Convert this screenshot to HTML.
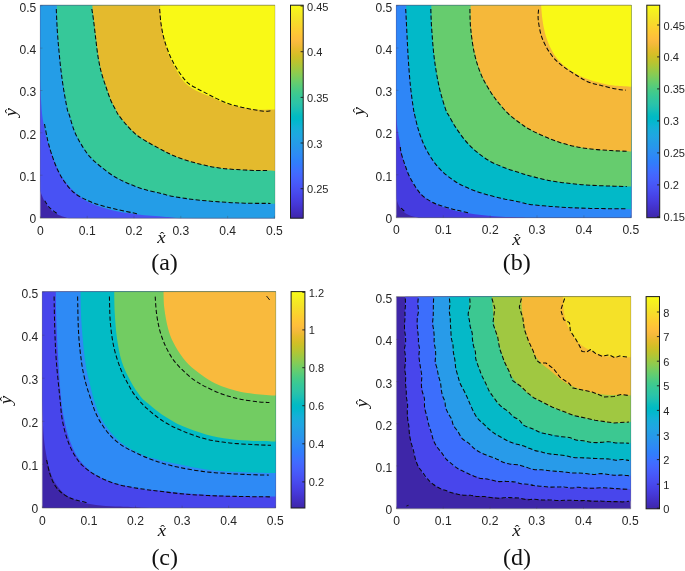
<!DOCTYPE html>
<html><head><meta charset="utf-8"><title>Contour figure</title>
<style>html,body{margin:0;padding:0;background:#fff}svg{display:block}text{font-family:"Liberation Sans",Arial,sans-serif;fill:#262626}.cap{font-family:"Liberation Serif","Times New Roman",serif;fill:#111}.mi{font-family:"Liberation Serif","Times New Roman",serif;font-style:italic;fill:#111}</style></head><body>
<svg width="685" height="571" viewBox="0 0 685 571">
<rect width="685" height="571" fill="#fff"/>
<defs><linearGradient id="pg" x1="0" y1="1" x2="0" y2="0"><stop offset="0.0000" stop-color="#3E26A8"/><stop offset="0.0159" stop-color="#402AB4"/><stop offset="0.0317" stop-color="#422EC0"/><stop offset="0.0476" stop-color="#4332CB"/><stop offset="0.0635" stop-color="#4537D5"/><stop offset="0.0794" stop-color="#463CDE"/><stop offset="0.0952" stop-color="#4741E5"/><stop offset="0.1111" stop-color="#4747EB"/><stop offset="0.1270" stop-color="#484DF0"/><stop offset="0.1429" stop-color="#4852F4"/><stop offset="0.1587" stop-color="#4758F8"/><stop offset="0.1746" stop-color="#465EFB"/><stop offset="0.1905" stop-color="#4563FD"/><stop offset="0.2063" stop-color="#4269FE"/><stop offset="0.2222" stop-color="#3E6FFF"/><stop offset="0.2381" stop-color="#3875FE"/><stop offset="0.2540" stop-color="#327CFC"/><stop offset="0.2698" stop-color="#2F81FA"/><stop offset="0.2857" stop-color="#2E87F7"/><stop offset="0.3016" stop-color="#2D8CF3"/><stop offset="0.3175" stop-color="#2B91EF"/><stop offset="0.3333" stop-color="#2797EB"/><stop offset="0.3492" stop-color="#259BE8"/><stop offset="0.3651" stop-color="#23A0E5"/><stop offset="0.3810" stop-color="#20A5E3"/><stop offset="0.3968" stop-color="#1CA9DF"/><stop offset="0.4127" stop-color="#18ADDB"/><stop offset="0.4286" stop-color="#12B1D6"/><stop offset="0.4444" stop-color="#08B5D0"/><stop offset="0.4603" stop-color="#01B8CA"/><stop offset="0.4762" stop-color="#02BAC3"/><stop offset="0.4921" stop-color="#0BBDBD"/><stop offset="0.5079" stop-color="#19BFB6"/><stop offset="0.5238" stop-color="#24C1AE"/><stop offset="0.5397" stop-color="#2CC4A7"/><stop offset="0.5556" stop-color="#31C69F"/><stop offset="0.5714" stop-color="#37C897"/><stop offset="0.5873" stop-color="#3FCA8E"/><stop offset="0.6032" stop-color="#4ACB84"/><stop offset="0.6190" stop-color="#57CC7A"/><stop offset="0.6349" stop-color="#64CD6F"/><stop offset="0.6508" stop-color="#72CD64"/><stop offset="0.6667" stop-color="#81CC59"/><stop offset="0.6825" stop-color="#8FCB4E"/><stop offset="0.6984" stop-color="#9DC943"/><stop offset="0.7143" stop-color="#ABC739"/><stop offset="0.7302" stop-color="#B9C431"/><stop offset="0.7460" stop-color="#C5C22A"/><stop offset="0.7619" stop-color="#D1BF27"/><stop offset="0.7778" stop-color="#DCBD29"/><stop offset="0.7937" stop-color="#E6BB2D"/><stop offset="0.8095" stop-color="#F0BA36"/><stop offset="0.8254" stop-color="#F8BA3D"/><stop offset="0.8413" stop-color="#FEBE3C"/><stop offset="0.8571" stop-color="#FEC338"/><stop offset="0.8730" stop-color="#FEC934"/><stop offset="0.8889" stop-color="#FCCF30"/><stop offset="0.9048" stop-color="#FAD62D"/><stop offset="0.9206" stop-color="#F7DC2A"/><stop offset="0.9365" stop-color="#F5E327"/><stop offset="0.9524" stop-color="#F5E924"/><stop offset="0.9683" stop-color="#F6EF20"/><stop offset="0.9841" stop-color="#F7F51B"/><stop offset="1.0000" stop-color="#F9FB15"/></linearGradient></defs>
<g id="panel-a">
<clipPath id="clipa"><rect x="40.2" y="5.2" width="234.8" height="213.0"/></clipPath>
<g clip-path="url(#clipa)">
<rect x="40.2" y="5.2" width="234.8" height="213.0" fill="#3E26A8"/>
<path d="M40.2 191.1C40.8 192.6 42.2 196.9 43.7 199.8C45.2 202.7 47.2 206.0 49.5 208.4C51.8 210.8 54.0 212.5 57.2 214.2C60.4 215.9 66.9 217.7 68.8 218.4L278.0 221.2L278.0 2.2L37.2 2.2Z" fill="#4852F4"/>
<path d="M40.2 84.0C40.3 86.7 40.6 94.7 41.0 100.0C41.4 105.3 41.7 111.3 42.3 116.0C42.9 120.7 43.7 124.2 44.4 128.0C45.1 131.8 45.6 134.8 46.6 138.5C47.6 142.2 49.0 146.4 50.5 150.5C52.0 154.6 53.2 158.5 55.3 163.2C57.4 167.9 59.8 173.8 63.0 178.6C66.2 183.4 70.7 188.4 74.5 192.1C78.3 195.8 81.9 198.3 86.1 200.7C90.3 203.1 94.5 204.7 99.6 206.5C104.7 208.3 110.8 210.0 116.9 211.3C123.0 212.6 130.4 213.4 136.2 214.2C142.0 214.9 146.6 215.4 151.6 215.8C156.6 216.2 161.2 216.5 166.0 216.9C170.8 217.3 178.0 218.2 180.4 218.4L278.0 221.2L278.0 2.2L37.2 2.2Z" fill="#249DE7"/>
<path d="M56.8 5.2C56.9 9.2 57.2 21.7 57.6 28.9C58.0 36.1 58.5 41.8 59.1 48.2C59.7 54.6 60.2 61.0 61.0 67.4C61.8 73.8 62.5 79.6 63.6 86.7C64.7 93.8 66.8 105.1 67.8 109.8C68.8 114.5 68.6 111.6 69.7 115.0C70.8 118.4 72.6 125.6 74.5 130.4C76.4 135.2 78.7 139.6 81.3 143.9C83.9 148.2 86.6 152.6 90.0 156.4C93.4 160.2 97.3 163.6 101.5 167.0C105.7 170.4 110.5 174.0 115.0 176.7C119.5 179.4 123.7 181.3 128.5 183.4C133.3 185.5 138.8 187.6 143.9 189.2C149.0 190.8 155.1 191.9 159.3 193.0C163.5 194.1 164.2 194.6 169.0 195.6C173.8 196.6 181.7 197.9 188.0 198.8C194.3 199.7 200.7 200.3 207.0 200.9C213.3 201.5 219.6 201.9 225.9 202.3C232.2 202.7 238.6 203.0 244.9 203.2C251.2 203.4 258.9 203.5 263.9 203.6C268.9 203.7 273.1 203.8 275.0 203.8L278.0 2.2Z" fill="#36C899"/>
<path d="M92.3 5.2C92.5 7.6 93.2 13.8 93.8 19.3C94.4 24.9 95.3 32.1 96.1 38.5C96.9 44.9 97.6 52.0 98.6 57.8C99.6 63.6 100.6 68.4 101.9 73.2C103.2 78.0 104.8 82.2 106.3 86.7C107.8 91.2 109.5 96.4 111.1 100.2C112.7 104.0 114.7 107.3 116.0 109.8C117.3 112.3 117.1 112.5 118.9 115.0C120.7 117.5 123.7 121.4 126.6 124.6C129.5 127.8 132.7 131.4 136.2 134.3C139.7 137.2 143.6 139.4 147.8 142.0C152.0 144.6 157.4 147.4 161.6 149.7C165.8 151.9 168.6 153.6 173.1 155.5C177.6 157.4 183.3 159.3 188.5 160.9C193.7 162.5 198.8 163.9 204.0 165.1C209.2 166.3 214.0 167.2 219.4 168.0C224.8 168.8 230.6 169.2 236.7 169.6C242.8 170.0 249.6 170.3 256.0 170.5C262.4 170.7 271.8 170.8 275.0 170.9L278.0 2.2Z" fill="#E4BA2D"/>
<path d="M160.0 5.2C160.3 8.5 160.8 19.1 161.6 25.0C162.3 30.9 163.2 35.4 164.5 40.5C165.8 45.6 167.6 51.4 169.3 55.9C171.1 60.4 172.9 63.6 175.0 67.4C177.1 71.2 179.6 76.0 181.8 79.0C184.1 82.0 185.8 83.6 188.5 85.7C191.2 87.8 194.3 89.6 198.2 91.5C202.1 93.4 206.9 95.2 211.7 97.3C216.5 99.4 222.2 102.4 227.0 104.0C231.8 105.6 236.1 106.1 240.6 107.0C245.1 107.9 248.3 109.0 254.0 109.4C259.7 109.8 271.5 109.6 275.0 109.6L278.0 2.2Z" fill="#F9F916"/>
<path d="M44.7 200.7C45.5 201.8 47.4 205.4 49.5 207.6C51.6 209.8 55.9 212.7 57.2 213.7" fill="none" stroke="#0a0a0a" stroke-width="1.05" stroke-dasharray="4.3 2.3"/>
<path d="M44.5 124.0C45.0 126.7 46.5 135.1 47.6 140.0C48.8 144.9 49.8 148.7 51.4 153.5C53.0 158.3 55.0 164.2 57.2 169.0C59.5 173.8 62.0 178.4 64.9 182.4C67.8 186.4 70.7 189.9 74.5 193.0C78.3 196.1 83.5 198.6 88.0 200.7C92.5 202.8 96.7 204.1 101.5 205.6C106.3 207.1 111.0 208.1 116.9 209.4C122.8 210.8 133.7 213.0 137.0 213.7" fill="none" stroke="#0a0a0a" stroke-width="1.05" stroke-dasharray="4.3 2.3"/>
<path d="M56.3 9.0C56.4 12.3 56.8 22.4 57.2 28.9C57.6 35.4 58.1 41.8 58.7 48.2C59.3 54.6 59.9 61.0 60.6 67.4C61.4 73.8 62.1 79.6 63.2 86.7C64.3 93.8 66.4 105.1 67.4 109.8C68.4 114.5 68.2 111.6 69.3 115.0C70.4 118.4 72.2 125.6 74.1 130.4C76.0 135.2 78.3 139.6 80.9 143.9C83.5 148.2 86.2 152.6 89.6 156.4C93.0 160.2 96.9 163.6 101.1 167.0C105.3 170.4 110.1 174.0 114.6 176.7C119.1 179.4 123.3 181.3 128.1 183.4C132.9 185.5 138.3 187.6 143.5 189.2C148.7 190.8 155.1 191.9 159.3 193.0C163.6 194.1 164.2 194.6 169.0 195.6C173.8 196.6 181.7 197.9 188.0 198.8C194.3 199.7 200.7 200.3 207.0 200.9C213.3 201.5 219.6 201.9 225.9 202.3C232.2 202.7 237.5 203.0 244.9 203.2C252.3 203.4 266.2 203.4 270.5 203.4" fill="none" stroke="#0a0a0a" stroke-width="1.05" stroke-dasharray="4.3 2.3"/>
<path d="M91.8 9.0C92.1 10.7 92.8 14.4 93.4 19.3C94.1 24.2 94.9 32.1 95.7 38.5C96.5 44.9 97.2 52.0 98.2 57.8C99.2 63.6 100.2 68.4 101.5 73.2C102.8 78.0 104.4 82.2 105.9 86.7C107.4 91.2 109.1 96.4 110.7 100.2C112.3 104.0 114.3 107.3 115.6 109.8C116.9 112.3 116.7 112.5 118.5 115.0C120.3 117.5 123.3 121.4 126.2 124.6C129.1 127.8 132.3 131.4 135.8 134.3C139.3 137.2 143.1 139.4 147.4 142.0C151.7 144.6 157.3 147.4 161.6 149.7C165.9 151.9 168.6 153.6 173.1 155.5C177.6 157.4 183.3 159.3 188.5 160.9C193.7 162.5 198.8 163.9 204.0 165.1C209.2 166.3 214.0 167.2 219.4 168.0C224.8 168.8 230.6 169.2 236.7 169.6C242.8 170.0 250.9 170.3 256.0 170.5C261.1 170.7 265.6 170.5 267.5 170.5" fill="none" stroke="#0a0a0a" stroke-width="1.05" stroke-dasharray="4.3 2.3"/>
<path d="M159.6 9.0C159.9 11.7 160.4 19.8 161.2 25.0C162.0 30.2 163.0 35.4 164.5 40.5C166.0 45.6 168.2 51.5 170.0 55.8C171.8 60.1 173.5 63.0 175.4 66.3C177.3 69.6 179.5 72.8 181.6 75.6C183.7 78.4 185.4 80.8 187.8 82.9C190.2 85.0 193.4 86.6 196.2 88.2C199.0 89.8 201.7 90.9 204.6 92.4C207.5 93.9 209.9 95.3 213.6 97.1C217.3 98.9 222.5 101.4 227.0 103.1C231.5 104.8 236.1 105.9 240.6 107.0C245.1 108.1 250.2 109.0 254.0 109.7C257.9 110.4 261.0 111.0 263.7 111.2C266.4 111.4 269.3 110.9 270.4 110.8" fill="none" stroke="#0a0a0a" stroke-width="1.05" stroke-dasharray="4.3 2.3"/>
</g>
<path d="M40.2 5.2H275.0M40.2 218.2H275.0" fill="none" stroke="#555" stroke-opacity="0.85" stroke-width="0.6"/>
<path d="M40.2 5.2V218.2M275.0 5.2V218.2" fill="none" stroke="#555" stroke-opacity="0.4" stroke-width="0.6"/>
<path d="M40.4 218.2v-2.3M40.2 217.5h2.3" stroke="#444" stroke-opacity="0.6" stroke-width="0.5" fill="none"/>
<text transform="translate(40.4 234.7) scale(0.955 1)" font-size="12.7" text-anchor="middle">0</text>
<text transform="translate(36.2 223.4) scale(0.95 1)" font-size="12.7" text-anchor="end">0</text>
<path d="M87.2 218.2v-2.3M40.2 175.2h2.3" stroke="#444" stroke-opacity="0.6" stroke-width="0.5" fill="none"/>
<text transform="translate(87.2 234.7) scale(0.955 1)" font-size="12.7" text-anchor="middle">0.1</text>
<text transform="translate(36.2 181.1) scale(0.95 1)" font-size="12.7" text-anchor="end">0.1</text>
<path d="M134.0 218.2v-2.3M40.2 132.8h2.3" stroke="#444" stroke-opacity="0.6" stroke-width="0.5" fill="none"/>
<text transform="translate(134.0 234.7) scale(0.955 1)" font-size="12.7" text-anchor="middle">0.2</text>
<text transform="translate(36.2 138.7) scale(0.95 1)" font-size="12.7" text-anchor="end">0.2</text>
<path d="M180.8 218.2v-2.3M40.2 90.5h2.3" stroke="#444" stroke-opacity="0.6" stroke-width="0.5" fill="none"/>
<text transform="translate(180.8 234.7) scale(0.955 1)" font-size="12.7" text-anchor="middle">0.3</text>
<text transform="translate(36.2 96.4) scale(0.95 1)" font-size="12.7" text-anchor="end">0.3</text>
<path d="M227.6 218.2v-2.3M40.2 48.1h2.3" stroke="#444" stroke-opacity="0.6" stroke-width="0.5" fill="none"/>
<text transform="translate(227.6 234.7) scale(0.955 1)" font-size="12.7" text-anchor="middle">0.4</text>
<text transform="translate(36.2 54.0) scale(0.95 1)" font-size="12.7" text-anchor="end">0.4</text>
<path d="M274.4 218.2v-2.3M40.2 5.8h2.3" stroke="#444" stroke-opacity="0.6" stroke-width="0.5" fill="none"/>
<text transform="translate(274.4 234.7) scale(0.955 1)" font-size="12.7" text-anchor="middle">0.5</text>
<text transform="translate(36.2 11.7) scale(0.95 1)" font-size="12.7" text-anchor="end">0.5</text>
<g transform="translate(161.5 243.0)"><text class="mi" transform="scale(1.18 1)" font-size="16" text-anchor="middle">x</text><text class="cap" x="0.6" y="-0.6" font-size="14" text-anchor="middle">ˆ</text></g>
<g transform="translate(15.5 112.2) rotate(-90)"><text class="mi" transform="scale(1.18 1)" font-size="16" text-anchor="middle">y</text><text class="cap" x="1.0" y="-0.6" font-size="14" text-anchor="middle">ˆ</text></g>
<rect x="290.5" y="5.2" width="12.7" height="213.0" fill="url(#pg)" stroke="#1c1c1c" stroke-width="1"/>
<path d="M303.2 6.0h-2.6" stroke="#1c1c1c" stroke-width="0.9"/>
<text transform="translate(307.0 10.5) scale(0.97 1)" font-size="11.4">0.45</text>
<path d="M303.2 51.7h-2.6" stroke="#1c1c1c" stroke-width="0.9"/>
<text transform="translate(307.0 56.2) scale(0.97 1)" font-size="11.4">0.4</text>
<path d="M303.2 97.4h-2.6" stroke="#1c1c1c" stroke-width="0.9"/>
<text transform="translate(307.0 101.9) scale(0.97 1)" font-size="11.4">0.35</text>
<path d="M303.2 143.0h-2.6" stroke="#1c1c1c" stroke-width="0.9"/>
<text transform="translate(307.0 147.5) scale(0.97 1)" font-size="11.4">0.3</text>
<path d="M303.2 188.7h-2.6" stroke="#1c1c1c" stroke-width="0.9"/>
<text transform="translate(307.0 193.2) scale(0.97 1)" font-size="11.4">0.25</text>
<text class="cap" x="164.5" y="270.4" font-size="24" text-anchor="middle">(a)</text>
</g>
<g id="panel-b">
<clipPath id="clipb"><rect x="396.2" y="5.2" width="235.2" height="212.5"/></clipPath>
<g clip-path="url(#clipb)">
<rect x="396.2" y="5.2" width="235.2" height="212.5" fill="#3E26A8"/>
<path d="M396.5 198.9C396.9 200.1 397.9 203.8 399.0 205.9C400.1 208.0 401.6 210.0 403.2 211.5C404.8 213.0 406.7 214.1 408.8 215.0C410.9 215.9 414.1 216.6 415.8 217.1C417.5 217.6 418.5 218.0 419.0 218.2L634.4 220.7L634.4 2.2L393.2 2.2Z" fill="#453CE0"/>
<path d="M396.5 119.0C396.7 120.8 397.1 126.3 397.6 130.0C398.1 133.7 399.1 137.5 399.7 141.0C400.3 144.5 400.4 147.6 401.1 151.2C401.8 154.8 402.7 158.7 403.9 162.4C405.1 166.1 406.6 170.1 408.1 173.6C409.6 177.1 411.0 180.2 413.0 183.5C415.0 186.8 417.4 190.5 420.0 193.3C422.6 196.1 425.4 198.3 428.5 200.3C431.6 202.3 435.2 203.9 438.3 205.2C441.4 206.5 443.8 207.2 447.0 208.2C450.2 209.2 452.8 210.3 457.4 211.3C462.0 212.3 468.7 213.4 474.8 214.2C480.9 215.0 486.5 215.6 494.0 216.2C501.5 216.8 514.3 217.2 520.0 217.6C525.7 217.9 526.7 218.2 528.0 218.3L634.4 220.7L634.4 2.2L393.2 2.2Z" fill="#2E86F7"/>
<path d="M406.2 5.2C406.3 9.2 406.6 20.1 407.0 28.9C407.4 37.7 407.9 48.2 408.5 57.8C409.1 67.4 409.9 78.0 410.8 86.7C411.7 95.4 413.2 105.1 413.9 109.8C414.6 114.5 414.2 111.6 415.0 115.0C415.8 118.4 417.3 125.3 418.9 130.4C420.5 135.5 422.4 141.0 424.7 145.8C426.9 150.6 429.5 155.1 432.4 159.3C435.3 163.5 438.1 167.2 442.0 170.9C445.9 174.6 450.7 178.4 455.5 181.5C460.3 184.6 465.4 186.9 470.9 189.2C476.4 191.4 482.5 193.3 488.3 195.0C494.1 196.7 500.3 198.0 505.6 199.2C510.9 200.3 515.9 201.0 520.0 201.9C524.1 202.8 525.2 203.7 530.3 204.4C535.4 205.2 543.8 205.9 550.6 206.4C557.4 206.9 564.1 207.4 570.9 207.7C577.7 208.0 584.4 208.2 591.2 208.4C598.0 208.6 604.8 208.6 611.5 208.7C618.2 208.8 628.2 208.9 631.5 208.9L634.4 2.2Z" fill="#02B9C8"/>
<path d="M431.3 5.2C431.4 9.2 431.5 20.1 432.0 28.9C432.5 37.7 433.3 48.2 434.5 57.8C435.7 67.4 437.5 78.0 439.4 86.7C441.3 95.4 444.5 105.1 446.1 109.8C447.7 114.5 447.2 112.2 448.8 115.0C450.4 117.8 452.8 122.4 455.5 126.6C458.2 130.8 461.6 135.8 465.1 140.0C468.6 144.2 472.5 148.1 476.7 151.6C480.9 155.1 485.4 158.5 490.2 161.2C495.0 163.9 500.6 166.1 505.6 168.0C510.6 169.9 515.9 171.5 520.0 172.8C524.1 174.1 525.2 174.6 530.3 175.9C535.4 177.2 543.8 179.5 550.6 180.8C557.4 182.1 564.1 182.8 570.9 183.6C577.7 184.3 584.4 184.9 591.2 185.3C598.0 185.7 604.8 185.9 611.5 186.1C618.2 186.3 628.2 186.5 631.5 186.6L634.4 2.2Z" fill="#66CC6E"/>
<path d="M470.6 5.2C470.7 9.2 470.5 20.8 471.2 28.9C471.9 37.0 473.2 46.3 475.0 54.0C476.8 61.7 479.1 68.7 481.8 75.1C484.5 81.5 488.4 87.7 491.4 92.5C494.4 97.3 497.0 100.3 500.0 104.0C503.0 107.7 506.2 111.4 509.5 114.5C512.8 117.6 516.5 120.2 520.0 122.7C523.5 125.2 525.2 126.8 530.3 129.5C535.4 132.2 543.8 136.2 550.6 138.9C557.4 141.6 564.1 143.8 570.9 145.5C577.7 147.2 584.4 148.2 591.2 149.0C598.0 149.8 604.8 150.2 611.5 150.6C618.2 151.0 628.2 151.4 631.5 151.6L634.4 2.2Z" fill="#F5B83A"/>
<path d="M541.1 5.2C541.3 7.6 541.8 14.7 542.4 19.3C543.0 23.9 543.7 28.3 544.9 32.8C546.1 37.3 547.8 42.0 549.7 46.2C551.6 50.4 553.9 54.4 556.5 57.8C559.1 61.2 561.7 63.8 565.1 66.5C568.5 69.2 572.5 72.0 576.7 74.2C580.9 76.5 585.7 78.4 590.2 80.0C594.7 81.6 599.5 82.8 603.7 83.8C607.9 84.8 610.6 85.2 615.2 85.7C619.8 86.2 628.8 86.5 631.5 86.7L634.4 2.2Z" fill="#F9F916"/>
<path d="M401.1 208.0C401.4 208.3 402.3 209.4 403.0 210.0C403.7 210.6 404.9 211.5 405.3 211.8" fill="none" stroke="#0a0a0a" stroke-width="1.05" stroke-dasharray="4.3 2.3"/>
<path d="M400.3 147.0C400.4 147.9 400.4 149.8 401.1 152.6C401.8 155.4 403.3 160.1 404.6 163.8C405.9 167.5 407.1 171.2 408.8 175.0C410.6 178.8 412.9 182.9 415.1 186.3C417.3 189.7 419.4 192.8 422.1 195.4C424.8 198.0 428.4 200.1 431.3 201.7C434.2 203.3 436.2 204.0 439.7 205.2C443.1 206.4 448.6 208.0 452.0 208.9C455.4 209.8 457.2 210.1 460.0 210.8C462.8 211.5 467.5 212.6 469.0 212.9" fill="none" stroke="#0a0a0a" stroke-width="1.05" stroke-dasharray="4.3 2.3"/>
<path d="M405.7 9.0C405.9 12.3 406.3 20.8 406.7 28.9C407.1 37.0 407.6 48.2 408.2 57.8C408.8 67.4 409.6 78.0 410.5 86.7C411.4 95.4 412.9 105.1 413.6 109.8C414.3 114.5 413.9 111.6 414.7 115.0C415.5 118.4 417.0 125.3 418.6 130.4C420.2 135.5 422.1 141.0 424.4 145.8C426.6 150.6 429.2 155.1 432.1 159.3C435.0 163.5 437.8 167.2 441.7 170.9C445.6 174.6 450.4 178.4 455.2 181.5C460.0 184.6 465.1 186.9 470.6 189.2C476.1 191.4 482.2 193.3 488.0 195.0C493.8 196.7 500.0 198.0 505.3 199.2C510.6 200.3 515.6 201.0 519.7 201.9C523.8 202.8 524.9 203.7 530.0 204.4C535.1 205.2 543.5 205.9 550.3 206.4C557.1 206.9 563.8 207.4 570.6 207.7C577.4 208.0 584.1 208.2 590.9 208.4C597.7 208.6 605.3 208.6 611.2 208.7C617.1 208.8 624.0 208.8 626.5 208.8" fill="none" stroke="#0a0a0a" stroke-width="1.05" stroke-dasharray="4.3 2.3"/>
<path d="M430.8 9.0C430.9 12.3 431.1 20.8 431.7 28.9C432.3 37.0 433.0 48.2 434.2 57.8C435.4 67.4 437.2 78.0 439.1 86.7C441.0 95.4 444.2 105.1 445.8 109.8C447.4 114.5 446.9 112.2 448.5 115.0C450.1 117.8 452.5 122.4 455.2 126.6C457.9 130.8 461.3 135.8 464.8 140.0C468.3 144.2 472.2 148.1 476.4 151.6C480.6 155.1 485.1 158.5 489.9 161.2C494.7 163.9 500.3 166.1 505.3 168.0C510.3 169.9 515.6 171.5 519.7 172.8C523.8 174.1 524.9 174.6 530.0 175.9C535.1 177.2 543.5 179.5 550.3 180.8C557.1 182.1 563.8 182.8 570.6 183.6C577.4 184.3 584.1 184.9 590.9 185.3C597.7 185.7 605.2 185.9 611.2 186.1C617.2 186.3 624.2 186.4 626.8 186.5" fill="none" stroke="#0a0a0a" stroke-width="1.05" stroke-dasharray="4.3 2.3"/>
<path d="M469.9 9.0C470.0 12.3 469.9 21.4 470.7 28.9C471.5 36.4 472.7 46.3 474.5 54.0C476.3 61.7 478.6 68.7 481.3 75.1C484.0 81.5 487.9 87.7 490.9 92.5C493.9 97.3 496.5 100.3 499.5 104.0C502.5 107.7 505.7 111.4 509.0 114.5C512.3 117.6 516.0 120.2 519.5 122.7C523.0 125.2 524.7 126.8 529.8 129.5C534.9 132.2 543.3 136.2 550.1 138.9C556.9 141.6 563.6 143.8 570.4 145.5C577.2 147.2 583.9 148.2 590.7 149.0C597.5 149.8 605.0 150.2 611.0 150.6C617.0 151.0 624.2 151.2 626.8 151.3" fill="none" stroke="#0a0a0a" stroke-width="1.05" stroke-dasharray="4.3 2.3"/>
<path d="M538.6 9.6C538.5 11.2 537.8 15.1 538.2 19.3C538.6 23.5 539.7 30.2 541.0 34.7C542.3 39.2 543.8 42.4 545.9 46.2C548.0 50.1 550.7 54.4 553.6 57.8C556.5 61.2 559.7 63.8 563.2 66.5C566.7 69.2 570.6 71.6 574.8 74.2C579.0 76.8 583.8 80.0 588.3 81.9C592.8 83.8 597.0 84.5 601.8 85.7C606.6 86.9 613.2 88.5 617.2 89.2C621.2 90.0 624.5 90.0 625.9 90.2" fill="none" stroke="#0a0a0a" stroke-width="1.05" stroke-dasharray="4.3 2.3"/>
</g>
<path d="M396.2 5.2H631.4M396.2 217.7H631.4" fill="none" stroke="#555" stroke-opacity="0.85" stroke-width="0.6"/>
<path d="M396.2 5.2V217.7M631.4 5.2V217.7" fill="none" stroke="#555" stroke-opacity="0.4" stroke-width="0.6"/>
<path d="M396.4 217.7v-2.3M396.2 217.0h2.3" stroke="#444" stroke-opacity="0.6" stroke-width="0.5" fill="none"/>
<text transform="translate(396.4 234.2) scale(0.955 1)" font-size="12.7" text-anchor="middle">0</text>
<text transform="translate(392.2 222.9) scale(0.95 1)" font-size="12.7" text-anchor="end">0</text>
<path d="M443.3 217.7v-2.3M396.2 174.8h2.3" stroke="#444" stroke-opacity="0.6" stroke-width="0.5" fill="none"/>
<text transform="translate(443.3 234.2) scale(0.955 1)" font-size="12.7" text-anchor="middle">0.1</text>
<text transform="translate(392.2 180.7) scale(0.95 1)" font-size="12.7" text-anchor="end">0.1</text>
<path d="M490.2 217.7v-2.3M396.2 132.5h2.3" stroke="#444" stroke-opacity="0.6" stroke-width="0.5" fill="none"/>
<text transform="translate(490.2 234.2) scale(0.955 1)" font-size="12.7" text-anchor="middle">0.2</text>
<text transform="translate(392.2 138.4) scale(0.95 1)" font-size="12.7" text-anchor="end">0.2</text>
<path d="M537.0 217.7v-2.3M396.2 90.3h2.3" stroke="#444" stroke-opacity="0.6" stroke-width="0.5" fill="none"/>
<text transform="translate(537.0 234.2) scale(0.955 1)" font-size="12.7" text-anchor="middle">0.3</text>
<text transform="translate(392.2 96.2) scale(0.95 1)" font-size="12.7" text-anchor="end">0.3</text>
<path d="M583.9 217.7v-2.3M396.2 48.0h2.3" stroke="#444" stroke-opacity="0.6" stroke-width="0.5" fill="none"/>
<text transform="translate(583.9 234.2) scale(0.955 1)" font-size="12.7" text-anchor="middle">0.4</text>
<text transform="translate(392.2 53.9) scale(0.95 1)" font-size="12.7" text-anchor="end">0.4</text>
<path d="M630.8 217.7v-2.3M396.2 5.8h2.3" stroke="#444" stroke-opacity="0.6" stroke-width="0.5" fill="none"/>
<text transform="translate(630.8 234.2) scale(0.955 1)" font-size="12.7" text-anchor="middle">0.5</text>
<text transform="translate(392.2 11.7) scale(0.95 1)" font-size="12.7" text-anchor="end">0.5</text>
<g transform="translate(516.5 244.6)"><text class="mi" transform="scale(1.18 1)" font-size="16" text-anchor="middle">x</text><text class="cap" x="0.6" y="-0.6" font-size="14" text-anchor="middle">ˆ</text></g>
<g transform="translate(363.5 111.3) rotate(-90)"><text class="mi" transform="scale(1.18 1)" font-size="16" text-anchor="middle">y</text><text class="cap" x="1.0" y="-0.6" font-size="14" text-anchor="middle">ˆ</text></g>
<rect x="646.8" y="5.2" width="12.9" height="212.5" fill="url(#pg)" stroke="#1c1c1c" stroke-width="1"/>
<path d="M659.7 25.0h-2.6" stroke="#1c1c1c" stroke-width="0.9"/>
<text transform="translate(663.5 29.5) scale(0.97 1)" font-size="11.4">0.45</text>
<path d="M659.7 56.9h-2.6" stroke="#1c1c1c" stroke-width="0.9"/>
<text transform="translate(663.5 61.4) scale(0.97 1)" font-size="11.4">0.4</text>
<path d="M659.7 88.9h-2.6" stroke="#1c1c1c" stroke-width="0.9"/>
<text transform="translate(663.5 93.4) scale(0.97 1)" font-size="11.4">0.35</text>
<path d="M659.7 120.9h-2.6" stroke="#1c1c1c" stroke-width="0.9"/>
<text transform="translate(663.5 125.4) scale(0.97 1)" font-size="11.4">0.3</text>
<path d="M659.7 152.9h-2.6" stroke="#1c1c1c" stroke-width="0.9"/>
<text transform="translate(663.5 157.4) scale(0.97 1)" font-size="11.4">0.25</text>
<path d="M659.7 184.9h-2.6" stroke="#1c1c1c" stroke-width="0.9"/>
<text transform="translate(663.5 189.4) scale(0.97 1)" font-size="11.4">0.2</text>
<path d="M659.7 216.9h-2.6" stroke="#1c1c1c" stroke-width="0.9"/>
<text transform="translate(663.5 221.4) scale(0.97 1)" font-size="11.4">0.15</text>
<text class="cap" x="516.8" y="270.4" font-size="24" text-anchor="middle">(b)</text>
</g>
<g id="panel-c">
<clipPath id="clipc"><rect x="42.2" y="291.6" width="233.6" height="216.4"/></clipPath>
<g clip-path="url(#clipc)">
<rect x="42.2" y="291.6" width="233.6" height="216.4" fill="#3E26A8"/>
<path d="M42.0 400.0C42.1 402.6 42.3 409.0 42.6 415.4C42.9 421.8 43.2 431.4 43.9 438.5C44.6 445.6 45.7 452.0 46.8 457.8C47.9 463.6 49.0 468.7 50.6 473.2C52.2 477.7 54.0 481.3 56.4 484.8C58.8 488.3 61.4 491.7 65.1 494.4C68.8 497.1 73.5 499.4 78.6 501.2C83.7 503.0 89.8 504.1 95.9 505.0C102.0 505.9 108.8 506.2 115.2 506.6C121.6 507.0 130.0 507.1 134.5 507.3C139.0 507.5 140.8 507.7 142.0 507.8L278.8 511.0L278.8 288.6L39.2 288.6Z" fill="#4745EB"/>
<path d="M55.8 291.4C55.9 296.8 56.0 311.7 56.4 323.5C56.8 335.3 57.6 349.4 58.4 362.1C59.2 374.9 60.2 390.5 61.2 400.0C62.2 409.5 62.8 412.9 64.1 419.3C65.4 425.7 66.9 432.4 69.0 438.5C71.1 444.6 73.8 451.1 76.7 455.9C79.6 460.7 82.8 464.0 86.3 467.4C89.8 470.8 93.7 473.7 97.9 476.1C102.1 478.5 106.5 480.2 111.3 481.9C116.1 483.6 121.2 484.8 126.8 486.1C132.4 487.4 139.7 488.9 145.0 489.6C150.3 490.4 151.7 489.9 158.7 490.6C165.7 491.3 177.2 492.8 187.0 493.6C196.8 494.4 207.5 494.9 217.8 495.4C228.1 495.9 238.9 496.2 248.6 496.4C258.3 496.6 271.3 496.6 275.8 496.6L278.8 288.6Z" fill="#2E8AF5"/>
<path d="M80.5 291.4C80.7 296.8 80.7 311.7 81.5 323.5C82.3 335.3 84.0 352.5 85.3 362.1C86.6 371.7 87.8 375.0 89.2 381.3C90.7 387.6 92.2 394.3 94.0 400.0C95.8 405.7 97.2 410.3 99.8 415.4C102.4 420.5 105.9 426.3 109.4 430.8C112.9 435.3 116.8 439.0 121.0 442.4C125.2 445.8 130.5 448.9 134.5 451.1C138.5 453.4 141.8 454.7 145.0 455.9C148.2 457.1 148.5 457.0 153.9 458.4C159.3 459.8 168.9 462.2 177.6 464.0C186.3 465.8 196.5 468.1 206.0 469.4C215.5 470.7 225.7 471.2 234.4 471.8C243.1 472.4 251.1 472.5 258.0 472.7C264.9 472.9 272.8 472.9 275.8 473.0L278.8 288.6Z" fill="#02BBC5"/>
<path d="M114.2 291.4C114.3 295.1 114.3 306.0 114.8 313.9C115.3 321.8 115.9 331.0 117.1 339.0C118.3 347.0 119.7 355.1 121.9 362.1C124.2 369.2 127.5 375.7 130.6 381.3C133.6 386.9 137.5 392.5 140.2 396.0C142.9 399.5 142.9 399.2 146.8 402.5C150.7 405.8 157.5 411.6 163.4 415.5C169.3 419.4 175.2 423.0 182.3 426.1C189.4 429.2 198.1 432.2 206.0 434.4C213.9 436.6 221.7 438.0 229.6 439.1C237.5 440.2 245.6 440.6 253.3 441.0C261.0 441.4 272.1 441.4 275.8 441.5L278.8 288.6Z" fill="#72CC62"/>
<path d="M163.5 291.4C163.6 294.2 163.6 302.1 164.3 308.1C165.0 314.1 166.3 321.6 167.8 327.4C169.3 333.2 170.9 337.7 173.5 342.8C176.1 347.9 179.7 353.7 183.2 358.2C186.7 362.7 190.5 366.3 194.7 369.8C198.9 373.3 203.7 376.7 208.2 379.4C212.7 382.1 216.9 384.3 221.7 386.2C226.5 388.1 231.6 389.7 237.1 391.0C242.6 392.3 248.1 393.1 254.5 393.9C260.9 394.7 272.2 395.3 275.8 395.6L278.8 288.6Z" fill="#F9BA3D"/>
<path d="M46.6 460.0C47.1 462.2 48.4 469.1 49.7 473.2C51.0 477.3 52.6 481.6 54.5 484.8C56.4 488.0 58.5 490.2 61.2 492.5C63.9 494.8 67.7 496.9 70.9 498.3C74.1 499.8 77.8 500.5 80.5 501.2C83.2 501.9 86.2 502.4 87.3 502.7" fill="none" stroke="#0a0a0a" stroke-width="1.05" stroke-dasharray="4.3 2.3"/>
<path d="M54.1 296.6C54.2 302.7 54.5 322.3 54.9 333.2C55.3 344.1 55.6 351.5 56.4 362.0C57.2 372.5 58.7 386.4 59.7 396.0C60.7 405.6 61.0 412.2 62.2 419.3C63.4 426.4 65.1 432.7 67.0 438.5C68.9 444.3 71.2 449.4 73.8 453.9C76.4 458.4 79.0 462.1 82.4 465.5C85.8 468.9 89.8 471.6 94.0 474.2C98.2 476.8 102.7 479.0 107.5 480.9C112.3 482.8 116.7 484.3 122.9 485.7C129.2 487.1 139.0 488.5 145.0 489.4C151.0 490.3 151.7 490.4 158.7 491.2C165.7 492.0 177.2 493.5 187.0 494.3C196.8 495.1 207.5 495.5 217.8 495.9C228.1 496.3 239.7 496.4 248.6 496.6C257.5 496.8 267.3 496.8 271.0 496.9" fill="none" stroke="#0a0a0a" stroke-width="1.05" stroke-dasharray="4.3 2.3"/>
<path d="M77.6 296.6C77.8 302.7 77.9 322.3 78.6 333.2C79.2 344.1 80.4 354.0 81.5 362.0C82.6 370.0 83.8 375.3 85.3 381.3C86.8 387.3 88.6 392.6 90.4 398.0C92.2 403.4 93.7 408.7 95.9 413.5C98.1 418.3 100.7 422.8 103.6 427.0C106.5 431.2 109.8 435.1 113.3 438.5C116.8 441.9 120.9 444.8 124.8 447.2C128.7 449.6 131.6 450.8 136.4 453.0C141.2 455.2 147.0 458.0 153.9 460.4C160.8 462.8 168.9 465.2 177.6 467.1C186.3 469.0 196.5 470.7 206.0 471.8C215.5 472.9 225.7 473.4 234.4 473.9C243.1 474.4 252.3 474.7 258.0 474.9C263.7 475.1 266.9 475.1 268.7 475.1" fill="none" stroke="#0a0a0a" stroke-width="1.05" stroke-dasharray="4.3 2.3"/>
<path d="M109.4 296.6C109.6 301.1 109.6 314.8 110.4 323.5C111.2 332.2 112.4 340.9 114.2 348.6C116.0 356.3 118.6 363.7 121.0 369.8C123.4 375.9 126.4 380.9 128.7 385.2C131.0 389.5 132.0 391.5 135.0 395.4C138.0 399.3 142.1 404.1 146.8 408.4C151.5 412.7 157.5 417.6 163.4 421.4C169.3 425.1 175.2 427.9 182.3 430.9C189.4 433.8 198.1 437.1 206.0 439.1C213.9 441.1 221.7 442.0 229.6 442.9C237.5 443.8 246.4 444.2 253.3 444.6C260.2 445.0 268.1 445.2 271.0 445.3" fill="none" stroke="#0a0a0a" stroke-width="1.05" stroke-dasharray="4.3 2.3"/>
<path d="M155.2 296.6C155.4 299.5 155.8 308.1 156.6 313.9C157.4 319.7 158.5 325.7 160.0 331.2C161.5 336.7 163.6 341.9 165.8 346.7C168.1 351.5 170.6 356.1 173.5 360.1C176.4 364.1 179.7 367.3 183.2 370.7C186.7 374.1 190.8 377.7 194.7 380.4C198.5 383.1 201.7 384.8 206.3 387.1C210.9 389.4 217.0 392.2 222.5 394.2C228.0 396.2 233.2 397.6 239.1 398.9C245.0 400.2 252.9 401.2 258.0 401.8C263.1 402.4 267.5 402.4 269.4 402.5" fill="none" stroke="#0a0a0a" stroke-width="1.05" stroke-dasharray="4.3 2.3"/>
<path d="M266.5 296L269.7 300" stroke="#111" stroke-width="0.9" fill="none"/>
</g>
<path d="M42.2 291.6H275.8M42.2 508.0H275.8" fill="none" stroke="#555" stroke-opacity="0.85" stroke-width="0.6"/>
<path d="M42.2 291.6V508.0M275.8 291.6V508.0" fill="none" stroke="#555" stroke-opacity="0.4" stroke-width="0.6"/>
<path d="M42.4 508.0v-2.3M42.2 507.3h2.3" stroke="#444" stroke-opacity="0.6" stroke-width="0.5" fill="none"/>
<text transform="translate(42.4 524.5) scale(0.955 1)" font-size="12.7" text-anchor="middle">0</text>
<text transform="translate(38.2 513.2) scale(0.95 1)" font-size="12.7" text-anchor="end">0</text>
<path d="M89.0 508.0v-2.3M42.2 464.3h2.3" stroke="#444" stroke-opacity="0.6" stroke-width="0.5" fill="none"/>
<text transform="translate(89.0 524.5) scale(0.955 1)" font-size="12.7" text-anchor="middle">0.1</text>
<text transform="translate(38.2 470.2) scale(0.95 1)" font-size="12.7" text-anchor="end">0.1</text>
<path d="M135.5 508.0v-2.3M42.2 421.3h2.3" stroke="#444" stroke-opacity="0.6" stroke-width="0.5" fill="none"/>
<text transform="translate(135.5 524.5) scale(0.955 1)" font-size="12.7" text-anchor="middle">0.2</text>
<text transform="translate(38.2 427.2) scale(0.95 1)" font-size="12.7" text-anchor="end">0.2</text>
<path d="M182.1 508.0v-2.3M42.2 378.2h2.3" stroke="#444" stroke-opacity="0.6" stroke-width="0.5" fill="none"/>
<text transform="translate(182.1 524.5) scale(0.955 1)" font-size="12.7" text-anchor="middle">0.3</text>
<text transform="translate(38.2 384.1) scale(0.95 1)" font-size="12.7" text-anchor="end">0.3</text>
<path d="M228.6 508.0v-2.3M42.2 335.2h2.3" stroke="#444" stroke-opacity="0.6" stroke-width="0.5" fill="none"/>
<text transform="translate(228.6 524.5) scale(0.955 1)" font-size="12.7" text-anchor="middle">0.4</text>
<text transform="translate(38.2 341.1) scale(0.95 1)" font-size="12.7" text-anchor="end">0.4</text>
<path d="M275.2 508.0v-2.3M42.2 292.2h2.3" stroke="#444" stroke-opacity="0.6" stroke-width="0.5" fill="none"/>
<text transform="translate(275.2 524.5) scale(0.955 1)" font-size="12.7" text-anchor="middle">0.5</text>
<text transform="translate(38.2 298.1) scale(0.95 1)" font-size="12.7" text-anchor="end">0.5</text>
<g transform="translate(162.0 535.6)"><text class="mi" transform="scale(1.18 1)" font-size="16" text-anchor="middle">x</text><text class="cap" x="0.6" y="-0.6" font-size="14" text-anchor="middle">ˆ</text></g>
<g transform="translate(11.0 400.0) rotate(-90)"><text class="mi" transform="scale(1.18 1)" font-size="16" text-anchor="middle">y</text><text class="cap" x="1.0" y="-0.6" font-size="14" text-anchor="middle">ˆ</text></g>
<rect x="291.1" y="291.6" width="13.8" height="216.4" fill="url(#pg)" stroke="#1c1c1c" stroke-width="1"/>
<path d="M304.9 292.3h-2.6" stroke="#1c1c1c" stroke-width="0.9"/>
<text transform="translate(308.7 296.8) scale(0.97 1)" font-size="11.4">1.2</text>
<path d="M304.9 329.9h-2.6" stroke="#1c1c1c" stroke-width="0.9"/>
<text transform="translate(308.7 334.4) scale(0.97 1)" font-size="11.4">1</text>
<path d="M304.9 367.7h-2.6" stroke="#1c1c1c" stroke-width="0.9"/>
<text transform="translate(308.7 372.2) scale(0.97 1)" font-size="11.4">0.8</text>
<path d="M304.9 405.7h-2.6" stroke="#1c1c1c" stroke-width="0.9"/>
<text transform="translate(308.7 410.2) scale(0.97 1)" font-size="11.4">0.6</text>
<path d="M304.9 443.8h-2.6" stroke="#1c1c1c" stroke-width="0.9"/>
<text transform="translate(308.7 448.3) scale(0.97 1)" font-size="11.4">0.4</text>
<path d="M304.9 481.9h-2.6" stroke="#1c1c1c" stroke-width="0.9"/>
<text transform="translate(308.7 486.4) scale(0.97 1)" font-size="11.4">0.2</text>
<text class="cap" x="164.7" y="565.0" font-size="24" text-anchor="middle">(c)</text>
</g>
<g id="panel-d">
<clipPath id="clipd"><rect x="396.3" y="296.6" width="234.5" height="212.2"/></clipPath>
<g clip-path="url(#clipd)">
<rect x="396.3" y="296.6" width="234.5" height="212.2" fill="#3E26A8"/>
<path d="M405.3 296.6C405.2 301.1 404.7 312.6 404.7 323.5C404.7 334.4 404.9 351.0 405.1 362.1C405.4 373.2 405.8 381.7 406.2 390.0C406.6 398.3 406.9 404.6 407.5 411.9C408.1 419.2 408.8 427.2 409.7 433.8C410.6 440.4 411.5 445.8 413.0 451.3C414.5 456.8 416.1 461.9 418.5 466.6C420.9 471.3 423.6 476.1 427.2 479.7C430.8 483.3 435.2 486.1 440.3 488.5C445.4 490.9 451.6 492.7 457.8 494.0C464.0 495.3 470.6 495.5 477.5 496.1C484.4 496.7 492.3 497.3 499.4 497.7C506.5 498.1 514.3 498.3 520.0 498.6C525.7 498.9 527.4 499.1 533.6 499.4C539.8 499.7 548.6 500.3 557.3 500.5C566.0 500.7 576.9 500.4 585.6 500.5C594.3 500.6 601.8 500.9 609.3 501.0C616.8 501.1 627.2 501.2 630.8 501.3L633.8 293.6Z" fill="#4846EC"/>
<path d="M418.2 296.6C418.1 301.1 417.6 312.6 417.8 323.5C418.1 334.4 418.9 350.9 419.7 362.0C420.5 373.1 421.7 382.4 422.6 390.0C423.5 397.6 424.1 401.7 425.0 407.5C425.9 413.3 426.8 419.5 428.3 425.0C429.8 430.5 431.6 435.6 433.8 440.3C436.0 445.1 438.5 449.5 441.4 453.5C444.3 457.5 447.5 461.3 451.3 464.4C455.1 467.5 459.7 469.9 464.4 472.1C469.1 474.3 474.2 476.1 479.7 477.5C485.2 478.9 491.3 479.9 497.2 480.8C503.1 481.7 508.9 481.8 515.0 482.6C521.1 483.5 526.6 485.1 533.6 485.9C540.6 486.7 548.6 487.2 557.3 487.5C566.0 487.8 576.9 487.4 585.6 487.5C594.3 487.6 601.8 487.9 609.3 488.2C616.8 488.5 627.2 489.0 630.8 489.2L633.8 293.6Z" fill="#3C6EFC"/>
<path d="M433.6 296.6C433.5 301.1 432.8 312.6 433.2 323.5C433.6 334.4 434.6 350.9 435.9 362.0C437.2 373.1 439.5 382.4 441.2 390.0C442.9 397.6 443.8 401.7 445.8 407.5C447.9 413.3 450.8 419.9 453.5 425.0C456.2 430.1 458.6 434.1 462.2 438.1C465.8 442.1 471.0 446.0 475.4 449.1C479.8 452.2 483.8 454.5 488.5 456.7C493.2 458.9 498.9 460.8 503.8 462.2C508.7 463.6 513.0 463.8 518.0 465.0C523.0 466.2 527.1 468.2 533.6 469.3C540.1 470.4 548.6 470.9 557.3 471.7C566.0 472.4 576.9 473.3 585.6 473.8C594.3 474.3 601.8 474.2 609.3 474.5C616.8 474.8 627.2 475.5 630.8 475.7L633.8 293.6Z" fill="#289BE9"/>
<path d="M449.4 296.6C449.5 301.1 449.4 314.2 450.0 323.5C450.6 332.8 451.9 343.7 453.2 352.4C454.5 361.1 456.0 369.2 457.7 375.6C459.4 382.0 461.6 386.4 463.6 391.0C465.6 395.6 467.6 398.5 469.9 403.1C472.2 407.7 474.4 414.0 477.5 418.4C480.6 422.8 484.5 426.1 488.5 429.4C492.5 432.7 497.2 435.8 501.6 438.1C506.0 440.4 510.4 441.6 515.0 443.3C519.5 445.0 522.6 446.6 528.9 448.5C535.1 450.4 543.8 452.9 552.5 454.5C561.2 456.1 571.4 457.2 580.9 458.0C590.4 458.8 601.0 458.8 609.3 459.2C617.6 459.6 627.2 460.2 630.8 460.4L633.8 293.6Z" fill="#05B9C8"/>
<path d="M469.8 296.6C469.6 299.5 468.4 307.8 468.8 313.9C469.2 320.0 470.9 325.8 472.1 333.2C473.3 340.6 474.4 351.1 476.0 358.2C477.6 365.3 479.6 370.1 481.8 375.6C484.0 381.2 486.6 386.9 489.2 391.5C491.8 396.1 494.0 399.7 497.2 403.1C500.4 406.5 503.7 408.3 508.2 411.9C512.7 415.5 518.8 421.5 524.2 424.9C529.6 428.2 534.4 430.0 540.7 432.0C547.0 434.0 553.7 434.9 562.0 436.7C570.3 438.5 582.5 441.7 590.4 442.6C598.3 443.5 602.6 441.8 609.3 441.9C616.0 442.0 627.2 443.1 630.8 443.3L633.8 293.6Z" fill="#3CC891"/>
<path d="M491.9 296.6C492.3 301.1 493.1 315.8 494.2 323.5C495.3 331.2 497.0 336.4 498.7 342.8C500.4 349.2 502.6 356.9 504.5 362.1C506.4 367.3 508.5 370.7 510.4 374.0C512.2 377.3 513.7 379.5 515.6 381.8C517.5 384.1 518.6 385.2 521.6 387.9C524.6 390.5 528.5 394.5 533.6 397.7C538.8 400.9 545.8 404.2 552.5 407.2C559.2 410.2 566.7 413.3 573.8 415.5C580.9 417.7 588.4 418.9 595.1 420.2C601.8 421.4 608.0 422.7 614.0 423.0C620.0 423.3 628.0 422.2 630.8 422.0L633.8 293.6Z" fill="#A0C841"/>
<path d="M521.4 296.6C521.6 299.5 521.7 308.1 522.4 313.9C523.1 319.7 524.1 325.4 525.6 331.2C527.1 337.0 529.0 343.5 531.4 348.6C533.8 353.8 536.7 358.2 540.1 362.1C543.5 366.0 547.9 368.5 551.7 371.7C555.6 374.9 559.0 378.6 563.2 381.3C567.4 384.0 571.6 386.2 576.7 388.1C581.8 390.0 588.5 391.8 594.0 392.9C599.5 394.0 603.3 394.6 609.4 395.0C615.5 395.4 627.2 395.3 630.8 395.4L633.8 293.6Z" fill="#F5B937"/>
<path d="M562.8 296.6C563.0 299.5 563.2 308.4 564.2 313.9C565.2 319.3 566.9 324.8 569.0 329.3C571.1 333.8 573.5 337.5 576.7 340.9C579.9 344.3 584.4 347.2 588.3 349.5C592.1 351.8 595.9 353.2 599.8 354.4C603.6 355.6 606.2 356.2 611.4 356.7C616.6 357.2 627.6 357.2 630.8 357.3L633.8 293.6Z" fill="#F5E128"/>
<path d="M405.3 298.5C405.3 299.5 405.6 302.7 405.5 304.8C405.5 306.8 405.0 308.9 404.9 311.0C404.9 313.1 405.1 315.2 405.0 317.3C405.0 319.3 404.6 321.4 404.6 323.5C404.5 325.6 404.4 327.8 404.6 329.9C404.7 332.1 405.3 334.2 405.4 336.4C405.6 338.5 405.7 340.6 405.6 342.8C405.4 344.9 404.5 347.1 404.5 349.2C404.5 351.4 405.2 353.5 405.4 355.7C405.5 357.8 405.6 359.9 405.5 362.1C405.4 364.3 404.6 366.8 404.7 369.1C404.7 371.4 405.6 373.7 405.7 376.0C405.8 378.4 405.4 380.7 405.5 383.0C405.5 385.4 406.1 387.6 406.2 390.0C406.4 392.4 406.2 394.9 406.4 397.3C406.7 399.7 407.4 402.1 407.6 404.6C407.7 407.0 407.3 409.5 407.3 411.9C407.3 414.4 407.5 416.8 407.7 419.3C408.0 421.7 408.7 424.1 408.9 426.5C409.2 428.9 409.0 431.2 409.4 433.8C409.7 436.5 410.4 439.7 411.1 442.6C411.8 445.5 412.9 448.4 413.6 451.1C414.3 453.9 414.6 456.5 415.4 459.1C416.2 461.7 417.1 464.3 418.4 466.7C419.7 469.0 421.5 470.9 423.1 473.0C424.6 475.1 425.9 477.3 427.7 479.2C429.4 481.2 431.4 483.0 433.5 484.5C435.6 486.1 438.2 487.4 440.3 488.5C442.4 489.5 444.1 489.9 446.0 490.6C448.0 491.3 449.9 492.1 451.8 492.7C453.8 493.3 455.7 493.9 457.7 494.3C459.8 494.7 462.1 495.1 464.3 495.3C466.5 495.4 468.8 495.0 470.9 495.3C473.1 495.5 475.2 496.3 477.5 496.5C479.8 496.7 482.4 496.3 484.8 496.6C487.2 496.8 489.6 497.5 492.1 497.8C494.5 498.1 497.0 498.3 499.4 498.2C501.7 498.2 504.0 497.5 506.3 497.4C508.6 497.4 510.9 497.7 513.2 497.8C515.4 497.9 517.8 497.9 520.0 498.2C522.3 498.5 524.5 499.5 526.8 499.7C529.0 499.8 531.1 499.3 533.6 499.3C536.1 499.4 538.9 499.9 541.5 499.9C544.1 500.0 546.8 499.8 549.4 499.9C552.0 499.9 554.8 500.4 557.3 500.5C559.8 500.6 562.0 500.4 564.4 500.3C566.7 500.3 569.1 500.2 571.5 500.3C573.8 500.3 576.2 500.6 578.5 500.6C580.9 500.7 583.1 500.5 585.6 500.6C588.1 500.7 590.9 501.2 593.5 501.2C596.1 501.3 598.8 501.0 601.4 501.1C604.0 501.1 606.9 501.5 609.3 501.6C611.7 501.7 613.7 501.6 615.9 501.6C618.0 501.6 620.2 501.9 622.4 501.9C624.6 501.8 627.9 501.4 629.0 501.3" fill="none" stroke="#0a0a0a" stroke-width="1.05" stroke-dasharray="4.3 2.3"/>
<path d="M418.2 298.5C418.1 299.5 417.8 302.7 417.9 304.7C417.9 306.8 418.5 308.9 418.5 311.0C418.4 313.1 417.6 315.2 417.4 317.2C417.2 319.3 417.1 321.4 417.1 323.5C417.2 325.6 417.4 327.8 417.6 329.9C417.7 332.1 418.2 334.2 418.3 336.3C418.5 338.5 418.3 340.6 418.5 342.8C418.6 344.9 419.4 347.0 419.5 349.1C419.5 351.3 418.9 353.5 418.9 355.6C418.9 357.7 419.3 359.8 419.6 362.0C419.9 364.2 420.4 366.6 420.7 369.0C421.1 371.3 421.6 373.6 421.8 375.9C421.9 378.3 421.4 380.7 421.4 383.1C421.4 385.4 421.4 387.5 421.9 390.1C422.4 392.7 423.9 395.8 424.4 398.7C424.8 401.6 424.2 404.6 424.6 407.6C425.0 410.5 426.1 413.3 426.8 416.2C427.5 419.1 428.0 422.2 428.8 424.9C429.5 427.6 430.5 430.0 431.3 432.6C432.1 435.1 432.5 438.0 433.5 440.5C434.4 442.9 435.7 445.0 437.1 447.2C438.6 449.3 440.4 451.1 441.9 453.1C443.4 455.1 444.6 457.3 446.2 459.1C447.9 460.9 449.8 462.3 451.7 463.9C453.6 465.5 455.6 467.2 457.7 468.5C459.8 469.8 462.1 470.8 464.5 471.9C466.9 473.0 469.4 474.3 471.9 475.3C474.4 476.3 476.8 477.5 479.5 478.2C482.3 478.8 485.5 478.6 488.4 479.2C491.4 479.7 494.2 481.1 497.1 481.5C500.0 481.9 503.1 481.3 506.1 481.4C509.1 481.5 512.6 481.6 515.1 482.0C517.6 482.4 519.1 483.5 521.2 483.8C523.2 484.2 525.4 483.9 527.5 484.2C529.6 484.4 531.3 485.1 533.6 485.5C536.0 485.8 538.9 486.0 541.5 486.3C544.1 486.6 546.8 487.0 549.4 487.1C552.0 487.2 554.8 487.1 557.3 487.0C559.8 487.0 562.0 486.7 564.4 486.9C566.7 487.0 569.1 488.0 571.5 488.0C573.8 488.1 576.2 487.2 578.5 487.2C580.9 487.3 583.1 488.0 585.6 488.1C588.1 488.3 590.8 488.3 593.5 488.3C596.1 488.2 598.8 487.8 601.4 487.8C604.0 487.8 606.9 488.0 609.3 488.1C611.7 488.3 613.7 488.4 615.9 488.6C618.1 488.7 620.2 489.0 622.4 489.1C624.6 489.2 627.9 489.2 629.0 489.2" fill="none" stroke="#0a0a0a" stroke-width="1.05" stroke-dasharray="4.3 2.3"/>
<path d="M433.6 298.5C433.6 299.5 433.4 302.7 433.4 304.7C433.3 306.8 433.4 308.9 433.3 311.0C433.3 313.1 433.3 315.2 433.1 317.2C433.0 319.3 432.5 321.4 432.6 323.5C432.7 325.6 433.4 327.8 433.6 329.9C433.9 332.1 434.1 334.2 434.2 336.3C434.3 338.5 434.0 340.6 434.2 342.8C434.4 344.9 435.1 347.0 435.4 349.1C435.6 351.3 435.7 353.4 435.7 355.6C435.7 357.7 435.0 359.8 435.2 362.1C435.5 364.3 436.7 366.7 437.2 369.0C437.7 371.3 437.9 373.7 438.5 376.0C439.0 378.3 440.1 380.5 440.5 382.9C441.0 385.2 441.0 387.8 441.3 390.0C441.7 392.1 442.0 393.9 442.6 395.9C443.2 397.8 444.4 399.5 444.9 401.5C445.4 403.4 445.1 405.6 445.6 407.6C446.2 409.5 447.2 411.5 448.2 413.4C449.2 415.3 450.6 417.0 451.5 418.9C452.4 420.9 452.3 423.0 453.3 425.1C454.4 427.2 456.4 429.3 457.9 431.5C459.3 433.7 460.2 436.3 462.0 438.3C463.9 440.3 466.7 441.6 468.9 443.4C471.1 445.3 473.1 447.7 475.2 449.3C477.4 451.0 479.5 452.1 481.8 453.2C484.0 454.3 486.4 455.1 488.8 456.1C491.2 457.0 493.9 457.8 496.4 458.9C498.9 459.9 501.3 461.5 503.7 462.4C506.1 463.3 508.4 463.9 510.8 464.2C513.2 464.6 515.6 464.2 518.1 464.7C520.6 465.1 523.2 466.3 525.8 467.1C528.4 467.9 531.0 469.0 533.6 469.4C536.2 469.9 538.9 469.6 541.5 469.8C544.2 470.1 546.8 470.4 549.4 470.7C552.1 471.0 554.8 471.2 557.3 471.4C559.8 471.7 562.0 471.8 564.4 472.0C566.7 472.3 569.1 472.7 571.4 472.9C573.8 473.0 576.2 472.9 578.5 473.0C580.9 473.1 583.1 473.4 585.6 473.6C588.1 473.9 590.9 474.4 593.5 474.4C596.1 474.4 598.8 473.6 601.4 473.6C604.1 473.6 606.9 474.3 609.3 474.6C611.7 474.9 613.7 475.2 615.8 475.2C618.0 475.3 620.3 475.0 622.4 475.0C624.6 475.1 627.9 475.6 629.0 475.7" fill="none" stroke="#0a0a0a" stroke-width="1.05" stroke-dasharray="4.3 2.3"/>
<path d="M449.4 298.5C449.5 299.5 450.0 302.7 449.9 304.7C449.9 306.8 449.2 308.9 449.3 311.0C449.3 313.1 450.0 315.2 450.2 317.2C450.4 319.3 450.3 321.2 450.4 323.5C450.5 325.7 450.7 328.3 450.9 330.7C451.0 333.1 451.0 335.6 451.3 338.0C451.7 340.4 452.6 342.7 453.0 345.1C453.3 347.5 453.1 349.9 453.4 352.4C453.8 354.9 454.5 357.5 454.9 360.1C455.3 362.7 455.3 365.4 455.7 368.0C456.2 370.5 457.0 373.0 457.8 375.6C458.5 378.2 459.1 380.9 460.2 383.5C461.2 386.0 462.9 388.6 464.0 390.8C465.2 393.1 466.0 394.9 467.0 396.9C467.9 399.0 468.7 400.9 469.7 403.2C470.8 405.5 471.9 408.5 473.2 411.0C474.5 413.5 475.9 416.3 477.6 418.4C479.2 420.5 481.4 421.9 483.3 423.6C485.2 425.4 486.9 427.3 488.8 429.0C490.8 430.7 492.9 432.3 495.0 433.8C497.2 435.2 499.6 436.5 501.8 437.7C504.0 438.9 506.0 440.1 508.1 441.1C510.3 442.1 512.5 443.0 514.8 443.7C517.2 444.5 519.7 444.7 522.1 445.5C524.5 446.2 526.9 447.4 529.0 448.2C531.1 449.0 532.8 449.8 534.7 450.4C536.6 451.0 538.7 451.2 540.7 451.7C542.6 452.2 544.5 453.0 546.5 453.4C548.5 453.8 550.3 454.0 552.5 454.3C554.7 454.5 557.3 454.6 559.7 454.9C562.0 455.1 564.4 455.5 566.7 456.0C569.1 456.4 571.4 457.2 573.7 457.5C576.1 457.8 578.5 457.6 580.9 457.7C583.3 457.8 585.6 458.0 588.0 458.1C590.4 458.2 592.7 458.4 595.1 458.5C597.5 458.6 599.8 458.7 602.2 458.8C604.6 458.9 607.0 458.8 609.3 459.1C611.6 459.3 613.6 460.1 615.8 460.2C618.0 460.3 620.3 459.5 622.5 459.5C624.7 459.6 627.9 460.3 629.0 460.4" fill="none" stroke="#0a0a0a" stroke-width="1.05" stroke-dasharray="4.3 2.3"/>
<path d="M469.8 298.5C469.8 299.8 470.3 303.7 470.0 306.2C469.7 308.8 468.3 311.6 468.2 313.9C468.1 316.3 469.0 318.3 469.4 320.4C469.7 322.6 469.9 324.8 470.3 326.9C470.8 329.0 471.8 331.1 472.2 333.2C472.5 335.3 472.2 337.4 472.5 339.5C472.7 341.6 473.0 343.7 473.5 345.8C474.0 347.8 475.0 349.8 475.4 351.9C475.8 354.0 475.3 356.2 475.7 358.3C476.0 360.3 476.8 362.2 477.5 364.1C478.2 366.1 478.9 368.0 479.7 369.9C480.4 371.8 480.8 373.4 481.8 375.6C482.8 377.9 484.5 380.8 485.8 383.4C487.0 386.1 488.1 389.1 489.4 391.4C490.7 393.7 492.1 395.2 493.5 397.1C494.9 399.0 496.1 400.9 497.6 402.7C499.2 404.4 500.8 406.1 502.6 407.6C504.4 409.1 506.6 410.2 508.4 411.7C510.2 413.2 511.4 415.2 513.3 416.6C515.1 418.0 517.5 418.6 519.3 420.1C521.0 421.5 521.7 424.0 523.9 425.4C526.1 426.8 529.6 427.5 532.3 428.7C535.1 429.9 538.0 431.7 540.5 432.6C543.1 433.5 545.3 433.6 547.7 434.1C550.1 434.6 552.4 435.2 554.8 435.7C557.2 436.1 559.6 436.5 562.0 436.8C564.4 437.1 566.9 437.0 569.2 437.5C571.6 438.0 573.8 439.5 576.1 440.0C578.5 440.5 581.0 440.3 583.4 440.7C585.8 441.1 588.2 442.0 590.4 442.3C592.6 442.6 594.6 442.6 596.7 442.6C598.8 442.6 600.9 442.3 603.0 442.2C605.1 442.0 607.2 441.6 609.3 441.8C611.4 441.9 613.6 442.8 615.8 443.0C618.0 443.2 620.2 442.9 622.4 443.0C624.6 443.0 627.9 443.2 629.0 443.3" fill="none" stroke="#0a0a0a" stroke-width="1.05" stroke-dasharray="4.3 2.3"/>
<path d="M491.9 298.5L494.8 308.1L492.9 323.5L497.7 337.0L499.6 348.6L504.5 362.1L509.3 371.7L512.2 380.4L520.8 386.2L527.6 392.9L533.6 397.7L552.5 407.2L573.8 415.5L595.1 420.2L614.0 423.0L629.0 422.0" fill="none" stroke="#0a0a0a" stroke-width="1.05" stroke-linejoin="round" stroke-dasharray="4.3 2.3"/>
<path d="M521.4 298.5L519.3 307.2L522.8 317.8L524.3 329.3L528.5 340.9L533.4 351.5L536.2 360.1L540.1 363.0L545.9 363.0L553.6 368.8L560.3 377.5L569.0 383.3L572.9 388.1L582.5 390.0L592.1 391.9L604.5 397.0L614.0 396.5L621.0 394.5L629.4 395.6" fill="none" stroke="#0a0a0a" stroke-width="1.05" stroke-linejoin="round" stroke-dasharray="4.3 2.3"/>
<path d="M564.6 298.5L560.8 310.0L563.7 319.7L569.5 322.6L570.4 331.2L576.2 339.9L580.0 346.7L582.0 351.5L586.8 352.0L590.6 349.5L595.5 353.4L602.2 356.3L609.0 354.8L614.7 357.8L619.5 355.9L628.2 357.3" fill="none" stroke="#0a0a0a" stroke-width="1.05" stroke-linejoin="round" stroke-dasharray="4.3 2.3"/>
<path d="M406.4 506L408.6 505.3" stroke="#111" stroke-width="0.9" fill="none"/>
</g>
<path d="M396.3 296.6H630.8M396.3 508.8H630.8" fill="none" stroke="#555" stroke-opacity="0.85" stroke-width="0.6"/>
<path d="M396.3 296.6V508.8M630.8 296.6V508.8" fill="none" stroke="#555" stroke-opacity="0.4" stroke-width="0.6"/>
<path d="M396.5 508.8v-2.3M396.3 508.1h2.3" stroke="#444" stroke-opacity="0.6" stroke-width="0.5" fill="none"/>
<text transform="translate(396.5 525.3) scale(0.955 1)" font-size="12.7" text-anchor="middle">0</text>
<text transform="translate(392.3 514.0) scale(0.95 1)" font-size="12.7" text-anchor="end">0</text>
<path d="M443.2 508.8v-2.3M396.3 465.9h2.3" stroke="#444" stroke-opacity="0.6" stroke-width="0.5" fill="none"/>
<text transform="translate(443.2 525.3) scale(0.955 1)" font-size="12.7" text-anchor="middle">0.1</text>
<text transform="translate(392.3 471.8) scale(0.95 1)" font-size="12.7" text-anchor="end">0.1</text>
<path d="M490.0 508.8v-2.3M396.3 423.7h2.3" stroke="#444" stroke-opacity="0.6" stroke-width="0.5" fill="none"/>
<text transform="translate(490.0 525.3) scale(0.955 1)" font-size="12.7" text-anchor="middle">0.2</text>
<text transform="translate(392.3 429.6) scale(0.95 1)" font-size="12.7" text-anchor="end">0.2</text>
<path d="M536.7 508.8v-2.3M396.3 381.6h2.3" stroke="#444" stroke-opacity="0.6" stroke-width="0.5" fill="none"/>
<text transform="translate(536.7 525.3) scale(0.955 1)" font-size="12.7" text-anchor="middle">0.3</text>
<text transform="translate(392.3 387.5) scale(0.95 1)" font-size="12.7" text-anchor="end">0.3</text>
<path d="M583.5 508.8v-2.3M396.3 339.4h2.3" stroke="#444" stroke-opacity="0.6" stroke-width="0.5" fill="none"/>
<text transform="translate(583.5 525.3) scale(0.955 1)" font-size="12.7" text-anchor="middle">0.4</text>
<text transform="translate(392.3 345.3) scale(0.95 1)" font-size="12.7" text-anchor="end">0.4</text>
<path d="M630.2 508.8v-2.3M396.3 297.2h2.3" stroke="#444" stroke-opacity="0.6" stroke-width="0.5" fill="none"/>
<text transform="translate(630.2 525.3) scale(0.955 1)" font-size="12.7" text-anchor="middle">0.5</text>
<text transform="translate(392.3 303.1) scale(0.95 1)" font-size="12.7" text-anchor="end">0.5</text>
<g transform="translate(516.5 535.8)"><text class="mi" transform="scale(1.18 1)" font-size="16" text-anchor="middle">x</text><text class="cap" x="0.6" y="-0.6" font-size="14" text-anchor="middle">ˆ</text></g>
<g transform="translate(366.7 403.3) rotate(-90)"><text class="mi" transform="scale(1.18 1)" font-size="16" text-anchor="middle">y</text><text class="cap" x="1.0" y="-0.6" font-size="14" text-anchor="middle">ˆ</text></g>
<rect x="646.1" y="296.6" width="13.4" height="212.2" fill="url(#pg)" stroke="#1c1c1c" stroke-width="1"/>
<path d="M659.5 312.0h-2.6" stroke="#1c1c1c" stroke-width="0.9"/>
<text transform="translate(663.3 316.5) scale(0.97 1)" font-size="11.4">8</text>
<path d="M659.5 336.6h-2.6" stroke="#1c1c1c" stroke-width="0.9"/>
<text transform="translate(663.3 341.1) scale(0.97 1)" font-size="11.4">7</text>
<path d="M659.5 361.2h-2.6" stroke="#1c1c1c" stroke-width="0.9"/>
<text transform="translate(663.3 365.7) scale(0.97 1)" font-size="11.4">6</text>
<path d="M659.5 385.8h-2.6" stroke="#1c1c1c" stroke-width="0.9"/>
<text transform="translate(663.3 390.3) scale(0.97 1)" font-size="11.4">5</text>
<path d="M659.5 410.4h-2.6" stroke="#1c1c1c" stroke-width="0.9"/>
<text transform="translate(663.3 414.9) scale(0.97 1)" font-size="11.4">4</text>
<path d="M659.5 435.0h-2.6" stroke="#1c1c1c" stroke-width="0.9"/>
<text transform="translate(663.3 439.5) scale(0.97 1)" font-size="11.4">3</text>
<path d="M659.5 459.6h-2.6" stroke="#1c1c1c" stroke-width="0.9"/>
<text transform="translate(663.3 464.1) scale(0.97 1)" font-size="11.4">2</text>
<path d="M659.5 484.2h-2.6" stroke="#1c1c1c" stroke-width="0.9"/>
<text transform="translate(663.3 488.7) scale(0.97 1)" font-size="11.4">1</text>
<path d="M659.5 508.2h-2.6" stroke="#1c1c1c" stroke-width="0.9"/>
<text transform="translate(663.3 512.7) scale(0.97 1)" font-size="11.4">0</text>
<text class="cap" x="516.9" y="565.1" font-size="24" text-anchor="middle">(d)</text>
</g>
</svg>
</body></html>
